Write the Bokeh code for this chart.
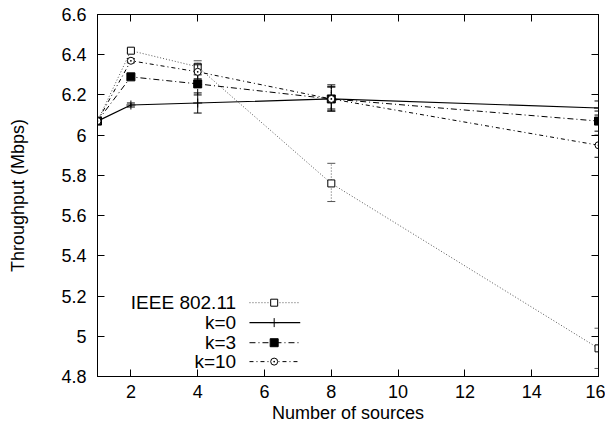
from bokeh.plotting import figure
from bokeh.models import FixedTicker, LinearAxis, Label, Range1d
from bokeh.embed import file_html
from bokeh.resources import INLINE

# ---- data ----
sources = [1, 2, 4, 8, 16]

ieee = [6.07, 6.42, 6.34, 5.76, 4.94]
ieee_lo = [6.07, 6.41, 6.31, 5.67, 4.84]
ieee_hi = [6.07, 6.43, 6.37, 5.86, 5.04]

k0 = [6.07, 6.15, 6.16, 6.18, 6.135]
k0_lo = [6.07, 6.14, 6.11, 6.12, 6.10]
k0_hi = [6.07, 6.16, 6.21, 6.25, 6.17]

k3 = [6.07, 6.29, 6.255, 6.18, 6.07]
k3_lo = [6.07, 6.28, 6.20, 6.13, 6.02]
k3_hi = [6.07, 6.30, 6.30, 6.24, 6.12]

k10 = [6.07, 6.37, 6.315, 6.18, 5.95]
k10_lo = [6.07, 6.36, 6.28, 6.12, 5.89]
k10_hi = [6.07, 6.38, 6.35, 6.24, 6.00]

labels = ["IEEE 802.11", "k=0", "k=3", "k=10"]
x_ticks = [2, 4, 6, 8, 10, 12, 14, 16]
y_ticks = [4.8, 5.0, 5.2, 5.4, 5.6, 5.8, 6.0, 6.2, 6.4, 6.6]
y_tick_labels = ["4.8", "5", "5.2", "5.4", "5.6", "5.8", "6", "6.2", "6.4", "6.6"]

# legend placement (data space)
leg_text_x = 5.15
leg_x0, leg_x1, leg_xm = 5.55, 7.07, 6.29
leg_y = [5.167, 5.068, 4.968, 4.874]

FONT = "Liberation Sans"
FS = "18px"
LFS = "19px"

p = figure(width=605, height=429, output_backend="svg", toolbar_location=None,
           x_range=Range1d(1, 16), y_range=Range1d(4.8, 6.6),
           min_border_left=97, min_border_right=7, min_border_top=14,
           min_border_bottom=53)
p.xgrid.visible = False
p.ygrid.visible = False
p.outline_line_color = "black"
p.outline_line_width = 1
p.background_fill_color = "white"
p.border_fill_color = "white"

def style_axis(ax, show_labels=True):
    ax.major_tick_in = 7
    ax.major_tick_out = 0
    ax.minor_tick_line_color = None
    ax.axis_line_color = "black"
    ax.major_tick_line_color = "black"
    ax.major_label_text_font = FONT
    ax.major_label_text_font_size = FS
    ax.major_label_text_color = "black"
    ax.axis_label_text_font = FONT
    ax.axis_label_text_font_size = FS
    ax.axis_label_text_font_style = "normal"
    ax.axis_label_text_color = "black"
    if not show_labels:
        ax.major_label_text_font_size = "0px"
        ax.major_label_text_color = None
        ax.major_label_standoff = 0

p.xaxis.ticker = FixedTicker(ticks=x_ticks)
p.yaxis.ticker = FixedTicker(ticks=y_ticks)
p.yaxis.major_label_overrides = {t: l for t, l in zip(y_ticks, y_tick_labels)}
p.xaxis.axis_label = "Number of sources"
p.yaxis.axis_label = "Throughput (Mbps)"
style_axis(p.xaxis[0])
style_axis(p.yaxis[0])
p.xaxis.major_label_standoff = 8
p.xaxis.axis_label_standoff = 2
p.yaxis.major_label_standoff = 11
p.yaxis.axis_label_standoff = 30

top = LinearAxis(ticker=FixedTicker(ticks=x_ticks))
style_axis(top, False)
p.add_layout(top, "above")
right = LinearAxis(ticker=FixedTicker(ticks=y_ticks))
style_axis(right, False)
p.add_layout(right, "right")

series = [
    (ieee, ieee_lo, ieee_hi, "#555555", "1 2", "square", "white", 7, 1.0),
    (k0, k0_lo, k0_hi, "black", "solid", "cross", "black", 9, 1.2),
    (k3, k3_lo, k3_hi, "black", "6 3 1 3", "square", "black", 8, 1.0),
    (k10, k10_lo, k10_hi, "black", "4 3 1 3", "circle_dot", "white", 7, 1.0),
]

for ys, lo, hi, col, dash, mk, fill, sz, lw in series:
    p.line(sources, ys, line_color=col, line_dash=dash, line_width=lw)
    p.segment(x0=sources, y0=lo, x1=sources, y1=hi, line_color=col,
              line_dash=dash, line_width=1)
    p.scatter(sources, lo, marker="dash", size=8, line_color=col, line_width=1)
    p.scatter(sources, hi, marker="dash", size=8, line_color=col, line_width=1)
    p.scatter(sources, ys, marker=mk, size=sz, line_color="black",
              fill_color=fill, line_width=1)

# legend
for i, (ys, lo, hi, col, dash, mk, fill, sz, lw) in enumerate(series):
    p.add_layout(Label(x=leg_text_x, y=leg_y[i], text=labels[i],
                       text_align="right", text_baseline="middle",
                       text_font=FONT, text_font_size=LFS, text_color="black"))
    p.line([leg_x0, leg_x1], [leg_y[i], leg_y[i]], line_color=col,
           line_dash=dash, line_width=lw)
    p.scatter([leg_xm], [leg_y[i]], marker=mk, size=sz, line_color="black",
              fill_color=fill, line_width=1)

open("out.html", "w").write(file_html(p, INLINE))
